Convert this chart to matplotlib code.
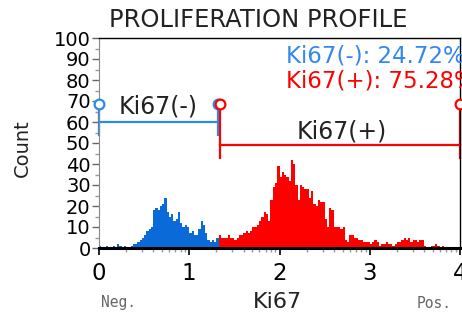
import numpy as np
import matplotlib.pyplot as plt

# Ki67 histogram, bins of 0.025 decades from 0 to 4
bin_width = 0.025
counts = [
    1, 0, 0, 1, 0, 0, 1, 0, 2, 1,
    0, 1, 0, 0, 1, 2, 2, 3, 4, 5,
    6, 8, 9, 10, 18, 19, 18, 20, 21, 24,
    17, 15, 16, 13, 14, 17, 12, 10, 11, 10,
    7, 8, 6, 6, 9, 13, 11, 7, 4, 3,
    4, 3, 5, 6, 5, 5, 5, 6, 5, 5,
    4, 5, 6, 6, 7, 8, 7, 8, 10, 10,
    11, 13, 15, 17, 16, 13, 23, 29, 31, 39,
    34, 36, 35, 34, 32, 42, 40, 30, 23, 30,
    29, 28, 28, 24, 27, 21, 20, 23, 22, 22,
    14, 10, 19, 18, 10, 10, 10, 9, 10, 4,
    3, 6, 6, 5, 5, 4, 4, 3, 3, 3,
    2, 3, 4, 3, 1, 2, 2, 3, 2, 2,
    1, 2, 3, 3, 4, 5, 4, 5, 3, 4,
    4, 3, 4, 4, 1, 0, 0, 1, 1, 2,
    1, 0, 1, 0, 0, 0, 0, 0, 0, 0,
]

# gates: (name, start, end, level)
neg_gate = ("Ki67(-)", 0.0, 1.32, 60)
pos_gate = ("Ki67(+)", 1.34, 4.0, 49)
neg_pct = 24.72
pos_pct = 75.28

blue_hist = "#0a6ad8"
blue_gate = "#2a8ae8"
red = "#ff0000"

fig = plt.figure(figsize=(4.62, 3.2), dpi=100)
ax = fig.add_axes([99 / 462, 1 - 248 / 320, 361 / 462, 210 / 320])

# histogram split at the gate boundary: negative part blue, positive part red
edges = np.arange(len(counts) + 1) * bin_width
split = int(np.searchsorted(edges, neg_gate[2]))
ax.stairs(counts[:split], edges[:split + 1], fill=True, color=blue_hist, lw=0)
ax.stairs(counts[split:], edges[split:], fill=True, color=red, lw=0)

ax.set_xlim(0, 4)
ax.set_ylim(0, 100)


def draw_gate(gate, color):
    name, x0, x1, level = gate
    ax.plot([x0, x1], [level, level], color=color, lw=1.6, clip_on=False)
    for x in (x0, x1):
        ax.plot([x, x], [level - 6, 66.3], color=color, lw=1.6, clip_on=False)
        ax.plot([x], [68.5], marker="o", ms=7, mfc="white", mec=color,
                mew=1.6, clip_on=False, zorder=5)


draw_gate(neg_gate, blue_gate)
draw_gate(pos_gate, red)

ax.text((neg_gate[1] + neg_gate[2]) / 2, 67.5, neg_gate[0], fontsize=17,
        ha="center", va="center", color="#222222")
ax.text(2.69, 55.5, pos_gate[0], fontsize=17,
        ha="center", va="center", color="#222222")

ax.text(2.07, 91.4, f"Ki67(-): {neg_pct:.2f}%", fontsize=16.5,
        color="#3388ee", ha="left", va="center")
ax.text(2.07, 79.4, f"Ki67(+): {pos_pct:.2f}%", fontsize=16.5,
        color=red, ha="left", va="center")

# axes frame
ax.spines["bottom"].set_linewidth(2.2)
ax.spines["bottom"].set_color("black")
ax.spines["left"].set_color("#888888")
ax.spines["top"].set_linewidth(1.0)
ax.spines["right"].set_linewidth(1.0)

ax.set_yticks(range(0, 101, 10))
ax.set_yticks(range(5, 100, 10), minor=True)
ax.tick_params(axis="y", which="major", length=5, width=1, color="#666666",
               labelsize=14, pad=1)
ax.tick_params(axis="y", which="minor", length=3, width=1, color="#999999")

ax.set_xticks([0, 1, 2, 3, 4])
ax.set_xticks([d + np.log10(k) for d in range(4) for k in range(2, 10)], minor=True)
ax.tick_params(axis="x", which="major", length=5, width=1.2, color="black",
               labelsize=16.5, pad=5)
ax.tick_params(axis="x", which="minor", length=3, width=1, color="#999999")

fig.text(258 / 462, 1 - 20 / 320, "PROLIFERATION PROFILE", fontsize=17.5,
         ha="center", va="center", color="#222222")
fig.text(22 / 462, 1 - 148 / 320, "Count", fontsize=14, rotation=90,
         ha="center", va="center", color="#222222")
fig.text(277 / 462, 1 - 302 / 320, "Ki67", fontsize=16,
         ha="center", va="center", color="#222222")
fig.text(118 / 462, 1 - 303 / 320, "Neg.", fontsize=10.5, family="DejaVu Sans Mono",
         ha="center", va="center", color="#666666")
fig.text(434 / 462, 1 - 303 / 320, "Pos.", fontsize=10.5, family="DejaVu Sans Mono",
         ha="center", va="center", color="#666666")

fig.savefig("out.png", dpi=100)
